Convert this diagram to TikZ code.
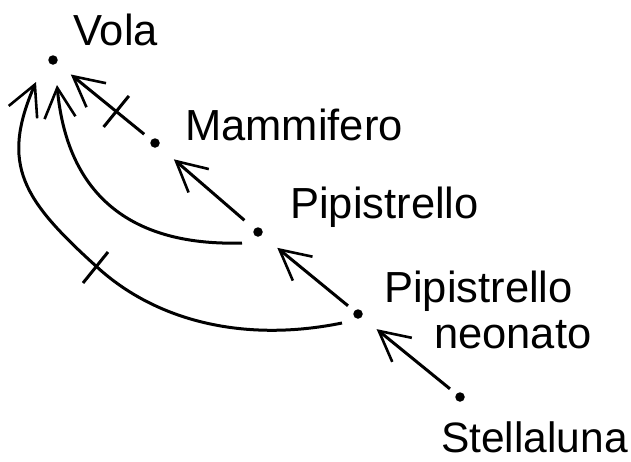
\documentclass[tikz,border=0pt]{standalone}
\usepackage{fontspec}
\setmainfont{Liberation Sans}
\usetikzlibrary{arrows.meta,calc}
\begin{document}
\begin{tikzpicture}[x=1pt,y=-1pt,
  dotnode/.style={circle,fill=black,inner sep=0pt,minimum size=9.5pt},
  lbl/.style={anchor=base west,inner sep=0pt,text depth=0pt,font=\fontsize{43.5pt}{45pt}\selectfont},
  arr/.style={line width=3pt,-{Straight Barb[length=30pt,width=31pt,line width=2.6pt]}},
  tick/.style={line width=3pt}]
\useasboundingbox (0,0) rectangle (631,461);
% dots
\node[dotnode] (vola) at (53,60) {};
\node[dotnode] (mam) at (155,143) {};
\node[dotnode] (pip) at (258,232) {};
\node[dotnode] (neo) at (358,314) {};
\node[dotnode] (stel) at (460,397) {};
% labels
\node[lbl] (lvola) at (73,45) {Vola};
\node[lbl] (lmam) at (185,140) {Mammifero};
\node[lbl] (lpip) at (290,218) {Pipistrello};
\node[lbl] (lneoa) at (384,302) {Pipistrello};
\node[lbl] (lneob) at (434,348) {neonato};
\node[lbl,font=\fontsize{42.5pt}{45pt}\selectfont] (lstel) at (441,452) {Stellaluna};
% straight arrows
\draw[arr,shorten <=9pt,shorten >=18pt] (mam) -- (vola);
\draw[arr,shorten <=13pt,shorten >=20pt] (pip) -- (mam);
\draw[arr,shorten <=8pt,shorten >=20pt] (neo) -- (pip);
\draw[arr,shorten <=8pt,shorten >=19pt] (stel) -- (neo);
% curved arrows
\coordinate (c1s) at (242,243);
\coordinate (c1e) at (57,85);
\coordinate (c2s) at (342,323);
\coordinate (c2m) at (97,267);
\coordinate (c2e) at (36,82);
\draw[arr] (c1s) .. controls (142,246) and (68,205) .. (c1e);
\draw[arr] (c2s) .. controls (244,343) and (156,321) .. (c2m)
  .. controls (23,200) and (0,165) .. (c2e);
% ticks
\coordinate (k1) at ($(vola)!0.62!(mam)$);
\draw[tick] ($(k1)!20pt!90:(mam)$) -- ($(k1)!20pt!-90:(mam)$);
\draw[tick] ($(c2m)+(-14,16)$) -- ($(c2m)+(11,-15)$);
\end{tikzpicture}
\end{document}
